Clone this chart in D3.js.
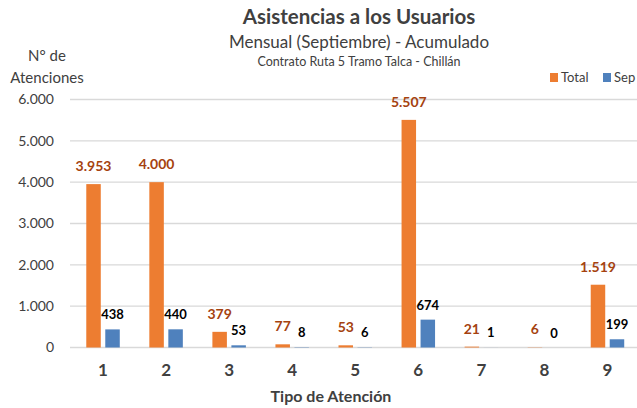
<!DOCTYPE html>
<html><head><meta charset="utf-8">
<script src="https://cdn.jsdelivr.net/npm/d3@7"></script>
<style>body{margin:0;background:#fff}svg{display:block;font-family:Lato,"Noto Sans",sans-serif}</style>
</head><body><svg id="c" width="637" height="408"></svg>
<script>
const categories = ["1","2","3","4","5","6","7","8","9"];
const totalValues = [3953, 4000, 379, 77, 53, 5507, 21, 6, 1519];
const sepValues = [438, 440, 53, 8, 6, 674, 1, 0, 199];
const seriesNames = ["Total", "Sep"];
const yTicks = [0, 1000, 2000, 3000, 4000, 5000, 6000];
const titleText = "Asistencias a los Usuarios";
const subtitleText = "Mensual (Septiembre) - Acumulado";
const subsubText = "Contrato Ruta 5 Tramo Talca - Chillán";
const yTitle = ["N° de", "Atenciones"];
const xTitle = "Tipo de Atención";

const fmt = v => d3.format(",")(v).replace(/,/g, ".");
const svg = d3.select("#c");
const colors = {Total: "#ED7D31", Sep: "#4F81BD"};

const x = d3.scaleBand().domain(categories).range([71.5, 639]);
const y = d3.scaleLinear().domain([0, 6000]).range([347.5, 99.5]);
const barW = 14.5, off = 9.5;

// gridlines
svg.append("g").selectAll("line").data(yTicks).join("line")
  .attr("x1", 70).attr("x2", 637)
  .attr("y1", d => y(d)).attr("y2", d => y(d))
  .attr("stroke", "#d9d9d9").attr("stroke-width", 1.3);

// y axis
const ya = svg.append("g").attr("transform", "translate(59,0)")
  .call(d3.axisLeft(y).tickValues(yTicks).tickFormat(fmt).tickSize(0).tickPadding(5));
ya.select(".domain").remove();
ya.selectAll("text").attr("font-size", 14).attr("fill", "#404040").attr("font-family", "Lato");

// x axis
const xa = svg.append("g").attr("transform", "translate(0,360)")
  .call(d3.axisBottom(x).tickSize(0).tickPadding(4));
xa.select(".domain").remove();
xa.selectAll("text").attr("font-size", 17).attr("font-weight", "bold").attr("fill", "#404040").attr("font-family", "Lato");

// bars
const g = svg.append("g");
g.selectAll("rect.t").data(categories).join("rect").attr("class", "t")
  .attr("x", (d) => x(d) + x.bandwidth()/2 - off - barW/2)
  .attr("width", barW)
  .attr("y", (d, i) => y(totalValues[i]))
  .attr("height", (d, i) => y(0) - y(totalValues[i]))
  .attr("fill", colors.Total);
g.selectAll("rect.s").data(categories).join("rect").attr("class", "s")
  .attr("x", (d) => x(d) + x.bandwidth()/2 + off - barW/2)
  .attr("width", barW)
  .attr("y", (d, i) => y(sepValues[i]))
  .attr("height", (d, i) => y(0) - y(sepValues[i]))
  .attr("fill", colors.Sep);

// labels
g.selectAll("text.t").data(categories).join("text").attr("class", "t")
  .attr("x", d => x(d) + x.bandwidth()/2 - off)
  .attr("y", (d, i) => y(totalValues[i]) - 13)
  .attr("text-anchor", "middle").attr("font-size", 14).attr("font-weight", "bold")
  .attr("fill", "#A5420F")
  .text((d, i) => fmt(totalValues[i]));
g.selectAll("text.s").data(categories).join("text").attr("class", "s")
  .attr("x", d => x(d) + x.bandwidth()/2 + off)
  .attr("y", (d, i) => y(sepValues[i]) - 10)
  .attr("text-anchor", "middle").attr("font-size", 13).attr("font-weight", "bold")
  .attr("fill", "#000")
  .text((d, i) => fmt(sepValues[i]));

// titles
svg.append("text").attr("x", 359).attr("y", 24).attr("text-anchor", "middle")
  .attr("font-size", 20.5).attr("font-weight", "bold").attr("fill", "#404040").text(titleText);
svg.append("text").attr("x", 359).attr("y", 48).attr("text-anchor", "middle")
  .attr("font-size", 17).attr("fill", "#404040").text(subtitleText);
svg.append("text").attr("x", 359).attr("y", 66).attr("text-anchor", "middle")
  .attr("font-size", 12.5).attr("fill", "#404040").text(subsubText);

svg.append("text").attr("x", 47).attr("y", 61).attr("text-anchor", "middle")
  .attr("font-size", 15).attr("fill", "#404040").text(yTitle[0]);
svg.append("text").attr("x", 47).attr("y", 83).attr("text-anchor", "middle")
  .attr("font-size", 15).attr("fill", "#404040").text(yTitle[1]);

svg.append("text").attr("x", 331).attr("y", 402).attr("text-anchor", "middle")
  .attr("font-size", 16).attr("font-weight", "bold").attr("fill", "#404040").text(xTitle);

// legend
const leg = svg.append("g");
const legX = [550, 603];
seriesNames.forEach((s, i) => {
  leg.append("rect").attr("x", legX[i]).attr("y", 73).attr("width", 8).attr("height", 9).attr("fill", colors[s]);
  leg.append("text").attr("x", legX[i] + 11).attr("y", 82).attr("font-size", 13).attr("fill", "#404040").text(s);
});
</script></body></html>
